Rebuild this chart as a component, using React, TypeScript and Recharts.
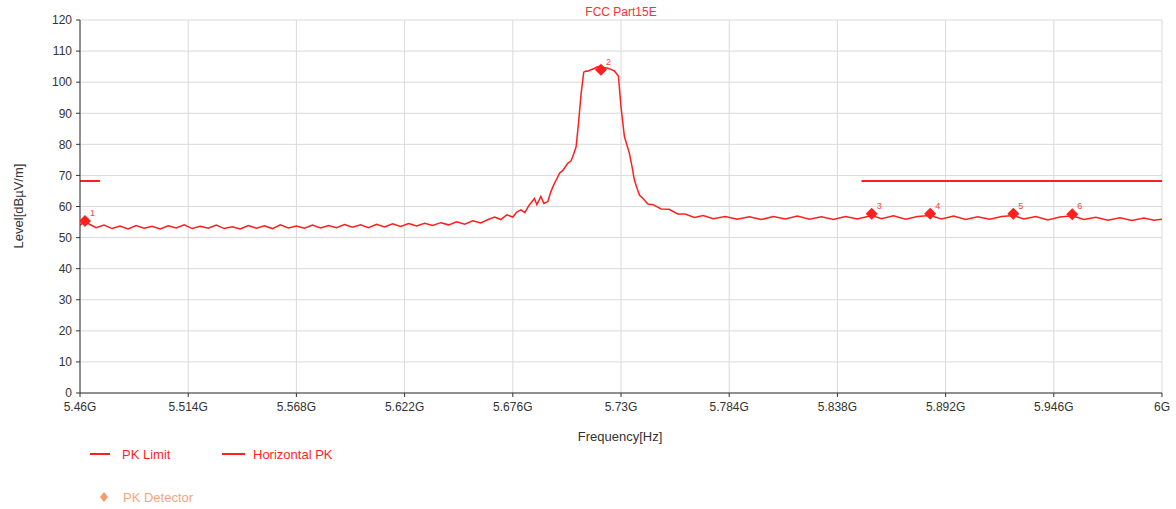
import React from 'react';
import { ComposedChart, Line, Scatter, XAxis, YAxis, CartesianGrid } from 'recharts';

document.body.style.margin = '0';

// frequency axis ticks (GHz) and level ticks (dBµV/m)
const freqTicks = [5.46, 5.514, 5.568, 5.622, 5.676, 5.73, 5.784, 5.838, 5.892, 5.946, 6];
const levelTicks = [0, 10, 20, 30, 40, 50, 60, 70, 80, 90, 100, 110, 120];

// Horizontal PK trace
const traceFreq = [
  5.46, 5.4625, 5.465, 5.468, 5.472, 5.476, 5.48, 5.484, 5.488, 5.492, 5.496, 5.5, 5.504, 5.508, 5.512, 5.516,
  5.52, 5.524, 5.528, 5.532, 5.536, 5.54, 5.544, 5.548, 5.552, 5.556, 5.56, 5.564, 5.568, 5.572, 5.576, 5.58,
  5.584, 5.588, 5.592, 5.596, 5.6, 5.604, 5.608, 5.612, 5.616, 5.62, 5.624, 5.628, 5.632, 5.636, 5.64, 5.644,
  5.648, 5.652, 5.656, 5.66, 5.6637, 5.667, 5.67, 5.673, 5.676, 5.678, 5.6801, 5.682, 5.684, 5.6868, 5.688, 5.69,
  5.6915, 5.6935, 5.695, 5.6968, 5.698, 5.6993, 5.701, 5.7034, 5.705, 5.7059, 5.7076, 5.7088, 5.7101, 5.7114,
  5.7125, 5.7134, 5.715, 5.7167, 5.718, 5.72, 5.7215, 5.7234, 5.725, 5.7267, 5.7287, 5.73, 5.7317, 5.7342,
  5.7355, 5.7367, 5.738, 5.7392, 5.741, 5.7434, 5.746, 5.75, 5.754, 5.7583, 5.762, 5.7666, 5.771, 5.776, 5.782,
  5.788, 5.794, 5.8, 5.806, 5.812, 5.818, 5.824, 5.83, 5.836, 5.842, 5.848, 5.8551, 5.86, 5.866, 5.872, 5.878,
  5.8843, 5.89, 5.896, 5.902, 5.908, 5.914, 5.92, 5.9258, 5.931, 5.937, 5.943, 5.949, 5.9552, 5.961, 5.967,
  5.973, 5.979, 5.985, 5.991, 5.996, 6,
];
const traceLevel = [
  54.0, 55.3, 54.2, 53.2, 54.0, 52.9, 53.7, 52.8, 53.9, 53.0, 53.6, 52.8, 53.8, 53.1, 54.1, 52.9,
  53.6, 53.0, 54.0, 52.9, 53.5, 52.8, 53.9, 53.0, 53.8, 52.9, 54.1, 53.1, 53.7, 53.0, 54.0, 53.1,
  53.9, 53.2, 54.2, 53.3, 54.1, 53.2, 54.3, 53.4, 54.4, 53.6, 54.5, 53.7, 54.6, 53.9, 54.8, 54.1,
  55.1, 54.3, 55.4, 54.7, 55.8, 56.6, 55.8, 57.3, 56.6, 58.2, 58.9, 58.0, 60.3, 62.6, 60.6, 63.2,
  61.0, 61.6, 64.8, 67.5, 68.9, 70.7, 71.6, 73.9, 74.6, 76.0, 79.2, 86.8, 96.4, 103.2,
  103.6, 103.5, 104.0, 104.4, 104.9, 105.1, 104.7, 104.5, 104.1, 103.6, 102.0, 92.1, 82.5, 77.1,
  72.8, 68.5, 65.9, 63.7, 62.6, 60.8, 60.6, 59.2, 59.1, 57.6, 57.6, 56.5, 57.1, 56.1, 56.8,
  55.9, 56.7, 55.8, 56.8, 56.0, 56.9, 55.9, 56.7, 55.8, 56.8, 56.0, 57.1, 56.1, 57.0, 55.9, 56.8,
  57.1, 56.0, 56.9, 55.8, 56.7, 55.9, 56.8, 57.1, 56.0, 56.8, 55.7, 56.6, 57.0, 55.8, 56.5,
  55.6, 56.4, 55.5, 56.3, 55.6, 55.9,
];

// PK Limit (null = gap between the two segments)
const limitFreq = [5.46, 5.47, 5.4701, 5.85, 6];
const limitLevel = [68.2, 68.2, null, 68.2, 68.2];

// PK Detector markers
const markerId = ['1', '2', '3', '4', '5', '6'];
const markerFreq = [5.4625, 5.72, 5.8551, 5.8843, 5.9258, 5.9552];
const markerLevel = [55.3, 104.0, 57.7, 57.7, 57.7, 57.5];

const trace = traceFreq.map((f, i) => ({ f, v: traceLevel[i] }));
const limit = limitFreq.map((f, i) => ({ f, v: limitLevel[i] }));
const markers = markerFreq.map((f, i) => ({ f, v: markerLevel[i], id: markerId[i] }));

const RED = '#ff1f1f';
const FONT = '"Liberation Sans", Arial, sans-serif';

const MarkerShape = (props: any) => {
  const { cx, cy, payload } = props;
  if (cx == null || cy == null) return null;
  return (
    <g>
      <path d={`M${cx},${cy - 6}L${cx + 6},${cy}L${cx},${cy + 6}L${cx - 6},${cy}Z`} fill={RED} />
      <text x={cx + 5} y={cy - 5} fontSize={9} fill="#ff4040" fontFamily={FONT}>
        {payload.id}
      </text>
    </g>
  );
};

const App: React.FC = () => {
  return (
    <div style={{ position: 'relative', width: 1176, height: 509, background: '#fff', fontFamily: FONT }}>
      <ComposedChart width={1176} height={509} margin={{ top: 20, right: 14, left: 20, bottom: 61 }}>
        <CartesianGrid stroke="#dadada" />
        <XAxis
          type="number"
          dataKey="f"
          domain={[5.46, 6]}
          ticks={freqTicks}
          tickFormatter={(v: number) => `${v}G`}
          stroke="#333"
          tick={{ fill: '#333', fontSize: 12, fontFamily: FONT }}
          tickSize={4}
          tickMargin={5}
          height={55}
          allowDataOverflow
        />
        <YAxis
          type="number"
          domain={[0, 120]}
          ticks={levelTicks}
          stroke="#333"
          tick={{ fill: '#333', fontSize: 12, fontFamily: FONT }}
          tickSize={4}
          tickMargin={4}
          width={60}
        />
        <Line data={limit} dataKey="v" stroke={RED} strokeWidth={2} dot={false} connectNulls={false} isAnimationActive={false} />
        <Line data={trace} dataKey="v" stroke={RED} strokeWidth={1.5} dot={false} isAnimationActive={false} />
        <Scatter data={markers} dataKey="v" shape={MarkerShape} isAnimationActive={false} />
      </ComposedChart>

      <div style={{ position: 'absolute', left: 621, top: 5, transform: 'translateX(-50%)', color: '#ff3030', fontSize: 12 }}>
        FCC Part15E
      </div>
      <div
        style={{
          position: 'absolute', left: 18, top: 206, transform: 'translate(-50%, -50%) rotate(-90deg)',
          color: '#333', fontSize: 13, whiteSpace: 'nowrap',
        }}
      >
        Level[dBµV/m]
      </div>
      <div style={{ position: 'absolute', left: 620, top: 429, transform: 'translateX(-50%)', color: '#333', fontSize: 13 }}>
        Frequency[Hz]
      </div>

      {/* legend */}
      <svg style={{ position: 'absolute', left: 0, top: 440 }} width={400} height={69}>
        <line x1={90} x2={110} y1={14} y2={14} stroke={RED} strokeWidth={2} />
        <text x={122} y={19} fontSize={13} fill={RED} fontFamily={FONT}>PK Limit</text>
        <line x1={222} x2={245} y1={14} y2={14} stroke={RED} strokeWidth={2} />
        <text x={253} y={19} fontSize={13} fill={RED} fontFamily={FONT}>Horizontal PK</text>
        <path d="M104,52L108,57L104,62L100,57Z" fill="#f59a6a" />
        <text x={123} y={62} fontSize={13} fill="#f6a57e" fontFamily={FONT}>PK Detector</text>
      </svg>
    </div>
  );
};

export default App;
